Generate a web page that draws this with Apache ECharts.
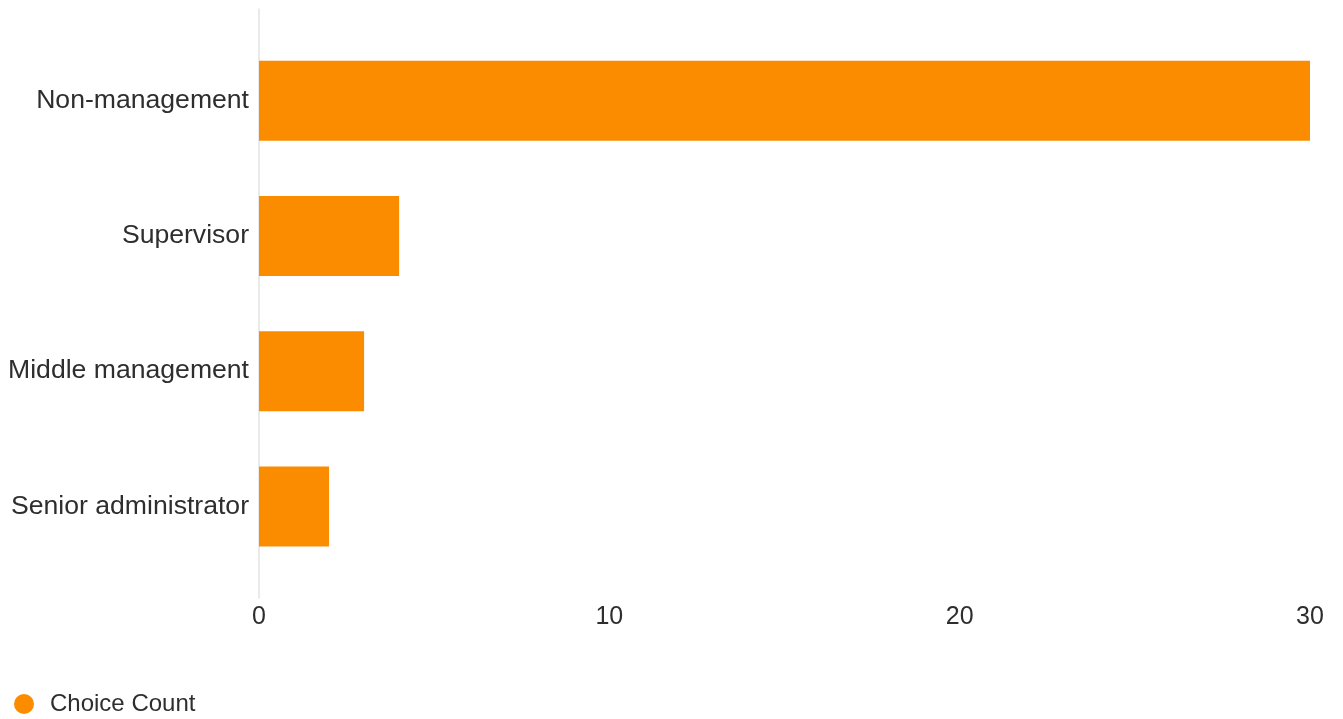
<!DOCTYPE html>
<html>
<head>
<meta charset="utf-8">
<script src="https://cdn.jsdelivr.net/npm/echarts@6/dist/echarts.min.js"></script>
<style>
  html, body { margin: 0; padding: 0; background: #ffffff; }
  #chart { width: 1343px; height: 719px; }
</style>
</head>
<body>
<div id="chart"></div>
<script>
// Survey responses by position level
const categories = ['Non-management', 'Supervisor', 'Middle management', 'Senior administrator'];
const choiceCount = [30, 4, 3, 2];
const seriesName = 'Choice Count';
const axisMin = 0;
const axisMax = 30;
const axisInterval = 10;

const FONT = '"Liberation Sans", Arial, sans-serif';
const TEXT = '#2e2e2e';
const ORANGE = '#fb8c00';

const chart = echarts.init(document.getElementById('chart'), null, { renderer: 'canvas' });

chart.setOption({
  backgroundColor: '#ffffff',
  animation: false,
  textStyle: { fontFamily: FONT },
  legend: {
    data: [seriesName],
    left: 14,
    top: 692,
    padding: 0,
    icon: 'circle',
    itemWidth: 20,
    itemHeight: 20,
    textStyle: { fontFamily: FONT, fontSize: 24, color: TEXT, padding: [0, 0, 0, 11] }
  },
  grid: [
    // plot area for the bars
    { left: 259, right: 33, top: 33, height: 541 },
    // taller frame carrying the baseline at zero and the value labels
    { left: 259, right: 33, top: 9, bottom: 121 }
  ],
  xAxis: [
    {
      gridIndex: 0, type: 'value', min: axisMin, max: axisMax, interval: axisInterval,
      show: false
    },
    {
      gridIndex: 1, type: 'value', min: axisMin, max: axisMax, interval: axisInterval,
      axisLine: { show: false },
      axisTick: { show: false },
      splitLine: { show: false },
      axisLabel: { margin: 7, fontFamily: FONT, fontSize: 25, color: TEXT }
    }
  ],
  yAxis: [
    {
      gridIndex: 0, type: 'category', data: categories, inverse: true,
      axisLine: { show: false },
      axisTick: { show: false },
      splitLine: { show: false },
      axisLabel: { margin: 10, fontFamily: FONT, fontSize: 26.6, color: TEXT }
    },
    {
      gridIndex: 1, type: 'category', data: categories, inverse: true,
      axisLine: { show: true, lineStyle: { color: '#e3e3e3', width: 1.5 } },
      axisTick: { show: false },
      axisLabel: { show: false },
      splitLine: { show: false }
    }
  ],
  series: [
    {
      name: seriesName,
      type: 'bar',
      xAxisIndex: 0,
      yAxisIndex: 0,
      data: choiceCount,
      barWidth: 80,
      itemStyle: { color: ORANGE }
    }
  ]
});
</script>
</body>
</html>
